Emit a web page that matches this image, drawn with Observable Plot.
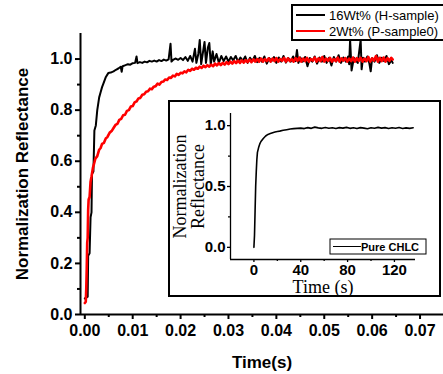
<!DOCTYPE html>
<html>
<head>
<meta charset="utf-8">
<script src="https://cdn.jsdelivr.net/npm/d3@7"></script>
<script src="https://cdn.jsdelivr.net/npm/@observablehq/plot@0.6"></script>
<style>
body{margin:0;background:#fff;}
#wrap{position:relative;width:443px;height:374px;overflow:hidden;background:#fff;}
#inset{position:absolute;left:168px;top:100px;}
</style>
</head>
<body>
<div id="wrap"><div id="main"></div><div id="inset"></div></div>
<script>
// ---- main chart data ----
const seriesNames = ["16Wt% (H-sample)", "2Wt% (P-sample0)"];
const seriesColors = ["#000000", "#ff0000"];
const xDomain = [-0.0009, 0.0749];
const yDomain = [0, 1.1];
const xMajorTicks = [0, 0.01, 0.02, 0.03, 0.04, 0.05, 0.06, 0.07];
const xMinorTicks = [0.005, 0.015, 0.025, 0.035, 0.045, 0.055, 0.065];
const yMajorTicks = [0, 0.2, 0.4, 0.6, 0.8, 1.0];
const yMinorTicks = [0.1, 0.3, 0.5, 0.7, 0.9];

const blackData = [[0,0.063],[0.0003,0.066],[0.0006,0.07],[0.0007,0.23],[0.001,0.24],[0.0012,0.38],[0.0014,0.4],[0.0015,0.55],[0.0018,0.56],[0.002,0.72],[0.0023,0.74],[0.0026,0.8],[0.003,0.85],[0.0033,0.87],[0.0036,0.89],[0.0039,0.905],[0.0044,0.93],[0.0049,0.945],[0.0054,0.947],[0.006,0.952],[0.0065,0.958],[0.007,0.963],[0.0075,0.97],[0.0077,0.95],[0.0079,0.972],[0.0085,0.976],[0.009,0.98],[0.0095,0.978],[0.01,0.984],[0.0105,0.985],[0.0108,1.01],[0.011,0.984],[0.0115,0.988],[0.012,0.985],[0.0125,0.99],[0.013,0.987],[0.0135,0.993],[0.014,0.99],[0.0145,0.994],[0.015,0.99],[0.0155,0.996],[0.016,0.992],[0.0165,0.998],[0.017,0.994],[0.0175,0.999],[0.0179,1.06],[0.0181,0.99],[0.0185,0.998],[0.019,1.002],[0.0195,0.997],[0.02,1.004],[0.0205,0.996],[0.021,1.008],[0.0215,0.993],[0.022,1.012],[0.0225,0.99],[0.023,1.04],[0.0233,0.985],[0.0237,1.02],[0.024,1.075],[0.0243,0.98],[0.0247,1.03],[0.025,1.067],[0.0253,0.985],[0.0257,1.045],[0.026,1.063],[0.0263,0.978],[0.0267,1.03],[0.027,0.99],[0.0275,1.02],[0.028,0.985],[0.0285,1.012],[0.029,0.992],[0.0295,1.01],[0.03,0.99],[0.0305,1.008],[0.031,0.995],[0.0315,1.012],[0.032,0.99],[0.0325,1.006],[0.033,0.993],[0.0335,1.01],[0.034,0.985],[0.0345,1.005],[0.035,0.992],[0.0355,1.012],[0.036,0.988],[0.0365,1.005],[0.037,0.99],[0.0375,1.01],[0.038,0.982],[0.0385,1.004],[0.039,0.992],[0.0395,1.008],[0.04,0.985],[0.0405,1.006],[0.041,0.99],[0.0415,1.012],[0.042,0.986],[0.0425,1.004],[0.043,0.99],[0.0435,1.01],[0.044,0.992],[0.0443,1.035],[0.0446,0.985],[0.045,1.006],[0.0455,0.99],[0.046,1.008],[0.0465,0.972],[0.047,1.004],[0.0475,0.99],[0.048,1.01],[0.0485,0.982],[0.049,1.006],[0.0495,0.99],[0.05,1.012],[0.0505,0.985],[0.051,1.005],[0.0515,0.975],[0.052,1.008],[0.0525,0.99],[0.053,1.015],[0.0535,0.985],[0.054,1.006],[0.0545,0.99],[0.055,1.01],[0.0552,0.98],[0.0554,1.075],[0.0557,0.955],[0.0562,1.005],[0.057,0.985],[0.0576,1.075],[0.0578,0.96],[0.0581,1.005],[0.0585,0.99],[0.059,1.01],[0.0594,0.985],[0.0597,0.952],[0.06,1.004],[0.0605,0.99],[0.061,1.015],[0.0615,0.985],[0.062,1.005],[0.0625,0.992],[0.063,1.012],[0.0635,0.98],[0.064,0.995],[0.0643,0.985]];

const redData = [[0,0.045],[0.0002,0.05],[0.0003,0.1],[0.0004,0.18],[0.0005,0.28],[0.0006,0.3],[0.0007,0.41],[0.0008,0.45],[0.001,0.46],[0.0012,0.52],[0.0014,0.54],[0.0017,0.575],[0.002,0.595],[0.0022,0.61],[0.0026,0.62],[0.003,0.645],[0.0033,0.652],[0.0036,0.668],[0.004,0.672],[0.0044,0.69],[0.0047,0.694],[0.0052,0.712],[0.0056,0.718],[0.006,0.73],[0.0064,0.742],[0.0068,0.746],[0.0072,0.762],[0.0076,0.766],[0.008,0.78],[0.0084,0.782],[0.0088,0.797],[0.0092,0.8],[0.0096,0.814],[0.01,0.816],[0.0104,0.83],[0.0108,0.834],[0.0112,0.846],[0.0116,0.848],[0.012,0.86],[0.0124,0.862],[0.0128,0.872],[0.0132,0.874],[0.0136,0.884],[0.014,0.882],[0.0144,0.892],[0.0148,0.894],[0.0152,0.904],[0.0156,0.9],[0.016,0.91],[0.0164,0.912],[0.0168,0.92],[0.0172,0.918],[0.0176,0.928],[0.018,0.926],[0.0184,0.935],[0.0188,0.932],[0.0192,0.942],[0.0196,0.938],[0.02,0.946],[0.0204,0.944],[0.0208,0.952],[0.0212,0.948],[0.0216,0.958],[0.022,0.954],[0.0224,0.962],[0.0228,0.958],[0.0232,0.966],[0.0236,0.962],[0.024,0.97],[0.0244,0.965],[0.0248,0.974],[0.0252,0.968],[0.0256,0.976],[0.026,0.97],[0.0264,0.978],[0.0268,0.972],[0.0272,0.982],[0.0276,0.975],[0.028,0.984],[0.0284,0.976],[0.0288,0.985],[0.0292,0.978],[0.0296,0.988],[0.03,0.98],[0.0304,0.99],[0.0308,0.982],[0.0312,0.992],[0.0316,0.984],[0.032,0.994],[0.0324,0.985],[0.0328,0.995],[0.0332,0.986],[0.0336,0.996],[0.034,0.988],[0.0344,0.998],[0.0348,0.988],[0.0352,0.999],[0.0356,0.99],[0.036,1.0],[0.0364,0.99],[0.0368,1.002],[0.0372,0.99],[0.0376,1.0],[0.038,0.992],[0.0384,1.003],[0.0388,0.99],[0.0392,1.002],[0.0396,0.992],[0.04,1.004],[0.0404,0.99],[0.0408,1.0],[0.0412,0.993],[0.0416,1.005],[0.042,0.99],[0.0424,1.003],[0.0428,0.992],[0.0432,1.0],[0.0436,0.99],[0.044,1.004],[0.0444,0.993],[0.0448,1.006],[0.0452,0.99],[0.0456,1.002],[0.046,0.992],[0.0464,1.005],[0.0468,0.99],[0.0472,1.0],[0.0476,0.994],[0.048,1.006],[0.0484,0.99],[0.0488,1.003],[0.0492,0.992],[0.0496,1.008],[0.05,0.99],[0.0504,1.002],[0.0508,0.993],[0.0512,1.005],[0.0516,0.99],[0.052,1.0],[0.0524,0.992],[0.0528,1.006],[0.0532,0.99],[0.0536,1.003],[0.054,0.994],[0.0544,1.004],[0.0548,0.99],[0.0552,1.002],[0.0556,0.992],[0.056,1.006],[0.0564,0.99],[0.0568,1.004],[0.0572,0.993],[0.0576,1.005],[0.058,0.99],[0.0584,1.002],[0.0588,0.992],[0.0592,1.008],[0.0596,0.99],[0.06,1.003],[0.0604,0.994],[0.0608,1.012],[0.0612,0.99],[0.0616,1.005],[0.062,0.992],[0.0624,1.006],[0.0628,0.99],[0.0632,1.004],[0.0636,0.993],[0.064,1.005],[0.0643,0.998]];

// ---- inset data ----
const insetName = "Pure CHLC";
const insetXDomain = [-20, 138];
const insetYDomain = [-0.1, 1.1];
const insetXTicks = [0, 40, 80, 120];
const insetXMinor = [20, 60, 100];
const insetYTicks = [0, 0.5, 1.0];
const insetYMinor = [0.25, 0.75];
const insetData = [[0,0],[0.5,0.1],[1,0.3],[1.5,0.5],[2,0.62],[2.5,0.72],[3,0.78],[4,0.82],[5,0.85],[6,0.87],[8,0.895],[10,0.915],[12,0.928],[14,0.935],[16,0.942],[18,0.948],[20,0.952],[22,0.955],[25,0.962],[28,0.967],[31,0.972],[34,0.976],[37,0.978],[40,0.98],[43,0.976],[46,0.984],[49,0.978],[52,0.988],[55,0.982],[58,0.978],[61,0.985],[64,0.979],[67,0.983],[70,0.977],[73,0.984],[76,0.98],[79,0.986],[82,0.978],[85,0.983],[88,0.976],[91,0.984],[94,0.98],[97,0.975],[100,0.983],[103,0.979],[106,0.986],[109,0.98],[112,0.984],[115,0.977],[118,0.983],[121,0.979],[124,0.985],[127,0.977],[130,0.982],[133,0.978],[136,0.983]];

const SANS = "'Liberation Sans', Arial, sans-serif";
const SERIF = "'Liberation Serif', 'Times New Roman', serif";

const main = Plot.plot({
  width: 443, height: 374,
  marginLeft: 80, marginRight: 0, marginTop: 33, marginBottom: 60,
  style: {fontFamily: SANS, background: "white", overflow: "visible"},
  x: {domain: xDomain},
  y: {domain: yDomain},
  marks: [
    Plot.axisX({ticks: xMajorTicks, tickSize: 5, tickPadding: 5, strokeWidth: 2, fontSize: 16, fontWeight: "bold", fill: "#000", tickFormat: d3.format(".2f"), label: null}),
    Plot.axisX({ticks: xMinorTicks, tickSize: 3, strokeWidth: 2, tickFormat: () => "", label: null}),
    Plot.axisY({ticks: yMajorTicks, tickSize: 5, tickPadding: 3, strokeWidth: 2, fontSize: 16, fontWeight: "bold", fill: "#000", tickFormat: d3.format(".1f"), label: null}),
    Plot.axisY({ticks: yMinorTicks, tickSize: 3, strokeWidth: 2, tickFormat: () => "", label: null}),
    Plot.ruleY([yDomain[0]], {stroke: "#000", strokeWidth: 2}),
    Plot.ruleX([xDomain[0]], {stroke: "#000", strokeWidth: 2}),
    Plot.line(blackData, {x: d => d[0], y: d => d[1], stroke: seriesColors[0], strokeWidth: 2}),
    Plot.line(redData, {x: d => d[0], y: d => d[1], stroke: seriesColors[1], strokeWidth: 2.6}),
    Plot.text(["Normalization Reflectance"], {frameAnchor: "left", dx: -58, rotate: -90, textAnchor: "middle", lineAnchor: "middle", fontSize: 17, fontWeight: "bold", fill: "#000"}),
    Plot.text(["Time(s)"], {frameAnchor: "bottom", dy: 48, lineAnchor: "middle", fontSize: 17, fontWeight: "bold", fill: "#000"})
  ]
});
document.getElementById("main").appendChild(main);

// legend (main)
{
  const g = d3.select(main).append("g").attr("text-anchor", "start");
  g.append("rect").attr("x", 292).attr("y", 5).attr("width", 160).attr("height", 35)
    .attr("fill", "white").attr("stroke", "black").attr("stroke-width", 2);
  [15, 31].forEach((yy, i) => {
    g.append("line").attr("x1", 296).attr("x2", 325).attr("y1", yy).attr("y2", yy)
      .attr("stroke", seriesColors[i]).attr("stroke-width", 2);
    g.append("text").attr("x", 329).attr("y", yy + 4.5).text(seriesNames[i])
      .attr("text-anchor", "start")
      .attr("font-family", SANS).attr("font-size", 13).attr("fill", "#000");
  });
}

const inset = Plot.plot({
  width: 273, height: 197,
  marginLeft: 62, marginRight: 26, marginTop: 13, marginBottom: 38,
  style: {fontFamily: SANS, background: "white", overflow: "visible"},
  x: {domain: insetXDomain},
  y: {domain: insetYDomain},
  marks: [
    Plot.axisX({ticks: insetXTicks, tickSize: 3, tickPadding: 2, strokeWidth: 1.3, fontSize: 15, fontWeight: "bold", fill: "#000", tickFormat: d3.format("d"), label: null}),
    Plot.axisX({ticks: insetXMinor, tickSize: 2, strokeWidth: 1.3, tickFormat: () => "", label: null}),
    Plot.axisY({ticks: insetYTicks, tickSize: 3, tickPadding: 2, strokeWidth: 1.3, fontSize: 15, fontWeight: "bold", fill: "#000", tickFormat: d3.format(".1f"), label: null}),
    Plot.axisY({ticks: insetYMinor, tickSize: 2, strokeWidth: 1.3, tickFormat: () => "", label: null}),
    Plot.ruleY([insetYDomain[0]], {stroke: "#000", strokeWidth: 1.3}),
    Plot.ruleX([insetXDomain[0]], {stroke: "#000", strokeWidth: 1.3}),
    Plot.line(insetData, {x: d => d[0], y: d => d[1], stroke: "#000", strokeWidth: 1.6}),
    Plot.text(["Normalization"], {frameAnchor: "left", dx: -50, rotate: -90, textAnchor: "middle", lineAnchor: "middle", fontSize: 18, fontFamily: SERIF, fill: "#000"}),
    Plot.text(["Reflectance"], {frameAnchor: "left", dx: -32, rotate: -90, textAnchor: "middle", lineAnchor: "middle", fontSize: 18, fontFamily: SERIF, fill: "#000"}),
    Plot.text(["Time (s)"], {frameAnchor: "bottom", dy: 28, lineAnchor: "middle", fontSize: 18, fontFamily: SERIF, fill: "#000"})
  ]
});
document.getElementById("inset").appendChild(inset);
{
  const g = d3.select(inset).append("g").attr("text-anchor", "start");
  g.append("rect").attr("x", 1).attr("y", 1).attr("width", 271).attr("height", 195)
    .attr("fill", "none").attr("stroke", "black").attr("stroke-width", 2);
  g.append("rect").attr("x", 162).attr("y", 139).attr("width", 96).attr("height", 15)
    .attr("fill", "white").attr("stroke", "black").attr("stroke-width", 1);
  g.append("line").attr("x1", 165).attr("x2", 193).attr("y1", 146.5).attr("y2", 146.5)
    .attr("stroke", "black").attr("stroke-width", 1);
  g.append("text").attr("x", 193).attr("y", 150.5).text(insetName)
    .attr("text-anchor", "start")
    .attr("font-family", SANS).attr("font-size", 11).attr("font-weight", "bold").attr("fill", "#000");
}
</script>
</body>
</html>
